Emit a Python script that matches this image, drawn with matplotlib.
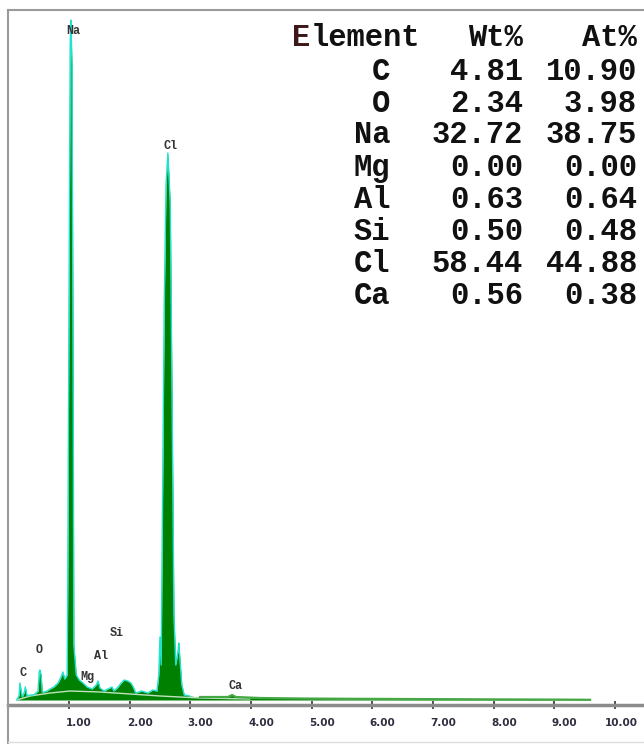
import numpy as np
import matplotlib
matplotlib.use("Agg")
import matplotlib.pyplot as plt
from matplotlib.lines import Line2D
from matplotlib.transforms import ScaledTranslation

# --- EDS spectrum, read as (energy keV, counts) ---
energy = [0.14, 0.18, 0.19, 0.23, 0.26, 0.28, 0.31, 0.36, 0.41, 0.44, 0.49, 0.51, 0.52,
          0.54, 0.56, 0.59, 0.64, 0.69, 0.75, 0.82, 0.87, 0.90, 0.93, 0.97, 0.98, 1.00,
          1.02, 1.03, 1.05, 1.07, 1.08, 1.12, 1.17, 1.23, 1.30, 1.38, 1.45, 1.48, 1.51,
          1.58, 1.64, 1.71, 1.74, 1.81, 1.86, 1.91, 1.97, 2.02, 2.06, 2.10, 2.20, 2.30,
          2.38, 2.45, 2.48, 2.50, 2.52, 2.53, 2.57, 2.60, 2.63, 2.67, 2.70, 2.73, 2.76,
          2.80, 2.81, 2.83, 2.86, 2.90, 2.99, 3.16, 3.41, 3.62, 3.69, 3.75, 4.15, 4.81,
          5.63, 6.46, 7.28, 8.10, 9.09, 9.59]
counts = [0, 5, 17, 3, 7, 13, 4, 5, 5, 6, 9, 28, 30,
          25, 8, 8, 9, 11, 13, 17, 23, 28, 21, 25, 115, 395,
          655, 680, 635, 295, 55, 25, 20, 17, 13, 11, 15, 19, 12,
          9, 11, 13, 9, 13, 17, 20, 19, 17, 13, 7, 9, 7,
          10, 9, 25, 63, 35, 115, 395, 515, 547, 495, 295, 85, 35,
          50, 57, 40, 15, 5, 4, 3, 3, 3, 5, 3, 2, 1.5,
          1.2, 1.0, 0.8, 0.6, 0.4, 0.2]

# background (bremsstrahlung) curve
bg_energy = [0.14, 0.36, 0.69, 1.02, 1.51, 2.01, 2.50, 3.16, 3.98]
bg_counts = [0, 4, 7, 9, 8, 6, 4, 2, 1]

# peak labels
peak_names = ["C", "O", "Na", "Mg", "Al", "Si", "Cl", "Ca"]
peak_x = [0.24, 0.51, 1.07, 1.30, 1.53, 1.79, 2.67, 3.74]
peak_y = [27, 50, 669, 23, 44, 67, 554, 14]

# quantification table
elements = ["C", "O", "Na", "Mg", "Al", "Si", "Cl", "Ca"]
wt_pct = ["4.81", "2.34", "32.72", "0.00", "0.63", "0.50", "58.44", "0.56"]
at_pct = ["10.90", "3.98", "38.75", "0.00", "0.64", "0.48", "44.88", "0.38"]

xticks = [1, 2, 3, 4, 5, 6, 7, 8, 9, 10]
xtick_labels = ["1.00", "2.00", "3.00", "4.00", "5.00", "6.00", "7.00", "8.00", "9.00", "10.00"]

W, H = 644, 744
fig = plt.figure(figsize=(W / 100, H / 100), dpi=100)
ax = fig.add_axes([8.3 / W, 39 / H, (W - 8.3) / W, (705 - 10) / H])

energy = np.array(energy)
counts = np.array(counts)

ax.fill_between(energy, 0, counts, color="#008000", lw=0, zorder=2)
ax.plot(bg_energy, bg_counts, color="#bfe3bf", lw=1, zorder=3)
main = energy <= 3.0
ax.plot(energy[main], counts[main], color="#1ee3cf", lw=1.0, zorder=4)
ax.plot(energy[~main], counts[~main], color="#45a845", lw=1.6, zorder=4)

for name, x, y in zip(peak_names, peak_x, peak_y):
    ax.text(x, y, name, ha="center", va="center", fontsize=8.5,
            family="Liberation Mono", weight="bold", color="#333333", zorder=5)

ax.set_xlim(0, (W - 8.3) / 60.67)
ax.set_ylim(-5, 690)
ax.set_yticks([])
ax.set_xticks(xticks)
ax.set_xticklabels(xtick_labels, fontsize=7.5, weight="bold", color="#2e2e40",
                   family="DejaVu Sans")
ax.tick_params(axis="x", direction="inout", length=6, width=1.3, color="#444444", pad=6)
shift = ScaledTranslation(23 / 100, 0, fig.dpi_scale_trans)
for lab in ax.get_xticklabels():
    lab.set_horizontalalignment("right")
    lab.set_transform(lab.get_transform() + shift)

for side in ["left", "top", "right"]:
    ax.spines[side].set_visible(False)
ax.spines["bottom"].set_color("#8c8c8c")
ax.spines["bottom"].set_linewidth(2.5)

# outer frame
fig.add_artist(Line2D([8 / W, 8 / W], [0, 1 - 10 / H], color="#9a9a9a", lw=1.5))
fig.add_artist(Line2D([8 / W, 1], [1 - 10 / H, 1 - 10 / H], color="#9a9a9a", lw=1.5))
fig.add_artist(Line2D([8 / W, 1], [2 / H, 2 / H], color="#dddddd", lw=1))

# table
tfont = dict(family="Liberation Mono", weight="bold", fontsize=22, va="baseline")
char_w = 0.6 * 22 * 100 / 72
fig.text(292 / W, 1 - 46 / H, "E", ha="left", color="#3c1818", **tfont)
fig.text((292 + char_w) / W, 1 - 46 / H, "lement", ha="left", color="#111111", **tfont)
fig.text(523 / W, 1 - 46 / H, "Wt%", ha="right", color="#111111", **tfont)
fig.text(637 / W, 1 - 46 / H, "At%", ha="right", color="#111111", **tfont)
baselines = [80, 112, 143, 176, 208, 240, 272, 304]
for el, wt, at, yb in zip(elements, wt_pct, at_pct, baselines):
    fig.text(390 / W, 1 - yb / H, el, ha="right", color="#111111", **tfont)
    fig.text(523 / W, 1 - yb / H, wt, ha="right", color="#111111", **tfont)
    fig.text(637 / W, 1 - yb / H, at, ha="right", color="#111111", **tfont)

fig.savefig("out.png", dpi=100)
